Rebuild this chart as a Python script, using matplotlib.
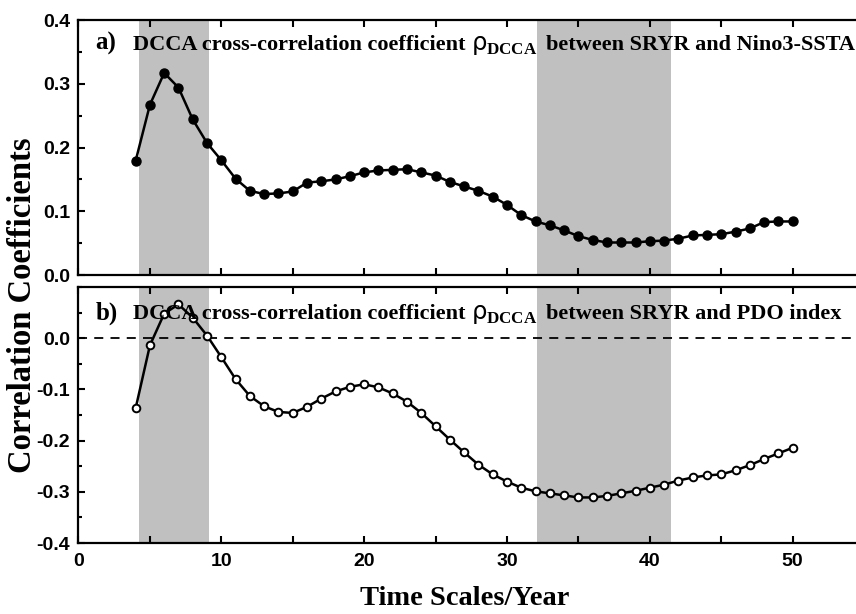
import matplotlib
matplotlib.use('Agg')
import matplotlib.pyplot as plt
from matplotlib.ticker import MultipleLocator

# time scales (years) and DCCA cross-correlation coefficients
scales = list(range(4, 51))
rho_nino3 = [0.179, 0.267, 0.317, 0.294, 0.244, 0.207, 0.180, 0.151, 0.132, 0.127,
             0.128, 0.131, 0.145, 0.147, 0.150, 0.155, 0.161, 0.164, 0.165, 0.166,
             0.161, 0.156, 0.146, 0.139, 0.132, 0.123, 0.110, 0.094, 0.084, 0.078,
             0.070, 0.061, 0.055, 0.051, 0.051, 0.051, 0.053, 0.054, 0.057, 0.062,
             0.063, 0.064, 0.068, 0.073, 0.083, 0.084, 0.084]
rho_pdo = [-0.137, -0.014, 0.048, 0.066, 0.040, 0.005, -0.037, -0.080, -0.113, -0.133,
           -0.144, -0.146, -0.134, -0.118, -0.104, -0.095, -0.090, -0.096, -0.108, -0.124,
           -0.146, -0.172, -0.198, -0.223, -0.247, -0.266, -0.280, -0.292, -0.299, -0.303,
           -0.307, -0.311, -0.311, -0.308, -0.303, -0.298, -0.292, -0.286, -0.278, -0.272,
           -0.268, -0.266, -0.258, -0.248, -0.236, -0.225, -0.214]
# shaded time-scale ranges
bands = [(4.25, 9.15), (32.1, 41.5)]

plt.rcParams['mathtext.fontset'] = 'custom'
plt.rcParams['mathtext.it'] = 'DejaVu Sans'
plt.rcParams['mathtext.rm'] = 'DejaVu Sans'
plt.rcParams['mathtext.bf'] = 'Liberation Serif:bold'

serif = 'Liberation Serif'
sans = 'Liberation Sans'
tick_kw = dict(fontfamily=sans, fontweight='bold', fontsize=14)

fig = plt.figure(figsize=(8.56, 6.14), dpi=100)
ax1 = fig.add_axes([0.0917, 0.5521, 0.9177, 0.4153])
ax2 = fig.add_axes([0.0917, 0.1156, 0.9177, 0.4170])

for ax in (ax1, ax2):
    for lo, hi in bands:
        ax.axvspan(lo, hi, color='#c0c0c0', lw=0, zorder=0)
    ax.set_xlim(0, 55)
    ax.xaxis.set_minor_locator(MultipleLocator(5))
    ax.yaxis.set_minor_locator(MultipleLocator(0.05))
    ax.tick_params(which='both', direction='in', top=True, right=True, width=1.5)
    ax.tick_params(which='major', length=5)
    ax.tick_params(which='minor', length=3)
    ax.tick_params(axis='x', which='minor', length=5)
    ax.tick_params(axis='y', pad=6)
    ax.tick_params(axis='x', pad=7)
    for s in ax.spines.values():
        s.set_linewidth(1.6)

# panel a
ax1.plot(scales, rho_nino3, color='black', lw=1.8, marker='o', ms=6.5,
         mfc='black', mec='black')
ax1.set_ylim(0, 0.4)
ax1.set_yticks([0.0, 0.1, 0.2, 0.3, 0.4])
ax1.set_yticklabels(['0.0', '0.1', '0.2', '0.3', '0.4'], **tick_kw)
ax1.set_xticks([0, 10, 20, 30, 40, 50])
ax1.tick_params(axis='x', labelbottom=False)

# panel b
ax2.axhline(0, color='black', lw=1.3, ls=(0, (5, 4)))
ax2.plot(scales, rho_pdo, color='black', lw=1.8, marker='o', ms=5.5,
         mfc='white', mec='black', mew=1.4)
ax2.set_ylim(-0.4, 0.1)
ax2.set_yticks([-0.4, -0.3, -0.2, -0.1, 0.0])
ax2.set_yticklabels(['-0.4', '-0.3', '-0.2', '-0.1', '0.0'], **tick_kw)
ax2.set_xticks([0, 10, 20, 30, 40, 50])
ax2.set_xticklabels(['0', '10', '20', '30', '40', '50'], **tick_kw)

# panel titles
for ax, tag, tail, yb in ((ax1, 'a)', 'between SRYR and Nino3-SSTA', 0.353),
                          (ax2, 'b)', 'between SRYR and PDO index', 0.0366)):
    ax.text(1.2, yb, tag, fontfamily=serif, fontweight='bold', fontsize=18,
            va='baseline', ha='left')
    ax.text(3.8, yb, 'DCCA cross-correlation coefficient', fontfamily=serif,
            fontweight='bold', fontsize=16, va='baseline', ha='left')
    ax.text(27.45, yb, r'$\rho_{\mathbf{DCCA}}$', fontsize=17.5,
            va='baseline', ha='left')
    ax.text(32.7, yb, tail, fontfamily=serif, fontweight='bold', fontsize=16,
            va='baseline', ha='left')

fig.text(0.026, 0.503, 'Correlation Coefficients', rotation=90, fontfamily=serif,
         fontweight='bold', fontsize=23.5, ha='center', va='center')
fig.text(0.543, 0.026, 'Time Scales/Year', fontfamily=serif, fontweight='bold',
         fontsize=20.5, ha='center', va='center')

fig.savefig('out.png', dpi=100)
